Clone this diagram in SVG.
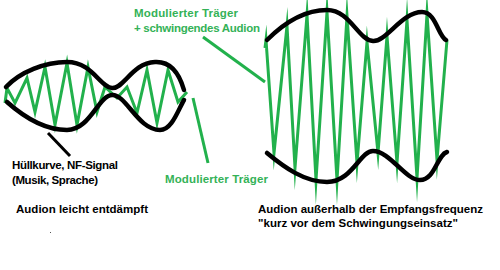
<svg xmlns="http://www.w3.org/2000/svg" width="500" height="270" viewBox="0 0 500 270">
<style>
.env{fill:none;stroke:#000;stroke-width:4.5;stroke-linecap:round;stroke-linejoin:round}
.car{fill:none;stroke:#22B14C;stroke-width:3;stroke-linejoin:miter;stroke-miterlimit:20}
.ptr{fill:none;stroke:#22B14C;stroke-width:3}
.lbl{font-family:"Liberation Sans",Arial,sans-serif;font-weight:bold;font-size:11.5px;fill:#000}
.glbl{font-family:"Liberation Sans",Arial,sans-serif;font-weight:bold;font-size:11.5px;fill:#34b257}
</style>
<rect width="500" height="270" fill="#fff"/>
<g id="left-signal">
<path class="car" d="M5,103 L7,88 L15,103 L27,78 L35,112 L45,67 L55,125 L67,63 L77,125 L88,67 L97,112 L105,87 L117,98 L127,87 L137,113 L147,70 L157,123 L168,70 L178,102 L187,92"/>
<path class="env" d="M6,87 C20,72 45,62 67,62 C92,62 100,87 112,88 C124,89 132,63 155,62 C172,61 180,76 184,90"/>
<path class="env" d="M7,102 C25,118 45,130 67,130 C90,130 98,96 112,95 C126,94 138,130 160,130 C172,130 178,110 184,100"/>
</g>
<g id="right-signal">
<path class="car" d="M265,48 L266,40 L274,153 L287,26 L295,168 L307,15 L316,180 L327,12 L337,180 L347,16 L357,163 L367,42 L378,153 L387,36 L397,163 L407,20 L417,178 L427,14 L437,160 L447,40"/>
<path class="env" d="M267,40 C285,22 305,10 327,10 C350,10 358,40 373,41 C386,42 402,12 422,12 C436,12 438,36 446,40"/>
<path class="env" d="M267,153 C285,168 305,182 327,182 C352,182 360,151 373,151 C390,151 405,180 420,180 C435,180 437,155 447,152"/>
</g>
<g id="connectors">
<path d="M48,133 L70,156" fill="none" stroke="#000" stroke-width="3"/>
<path class="ptr" d="M193,98 L208,163"/>
<path class="ptr" d="M203,37 L265,82"/>
</g>
<g id="label-huellkurve">
<text class="lbl" x="12" y="169" textLength="106">Hüllkurve, NF-Signal</text>
<text class="lbl" x="12" y="184" textLength="86">(Musik, Sprache)</text>
</g>
<g id="label-traeger-left">
<text class="glbl" x="165" y="183" textLength="103">Modulierter Träger</text>
</g>
<g id="label-traeger-right">
<text class="glbl" x="134" y="17" textLength="104">Modulierter Träger</text>
<text class="glbl" x="134" y="32" textLength="126">+ schwingendes Audion</text>
</g>
<g id="caption-left">
<text class="lbl" x="16" y="213" textLength="132">Audion leicht entdämpft</text>
</g>
<g id="caption-right">
<text class="lbl" x="258" y="213" textLength="225">Audion außerhalb der Empfangsfrequenz</text>
<text class="lbl" x="258" y="227" textLength="200">"kurz vor dem Schwingungseinsatz"</text>
</g>
<rect x="50" y="232" width="1" height="1" fill="#555"/>
</svg>
